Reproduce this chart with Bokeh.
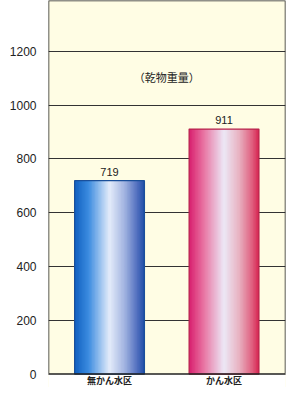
import numpy as np
from bokeh.plotting import figure
from bokeh.models import ColumnDataSource, FixedTicker, Range1d
from bokeh.core.properties import value
from bokeh.embed import file_html
from bokeh.resources import INLINE

categories = ["無かん水区", "かん水区"]
values = [719, 911]
y_ticks = [0, 200, 400, 600, 800, 1000, 1200]
note = "（乾物重量）"

# gradient stops (position, colour) for each bar - styling only
stops = [
    [(0.0, (16, 96, 192)), (0.2, (60, 140, 224)), (0.5, (228, 236, 250)),
     (0.72, (160, 178, 224)), (0.9, (80, 110, 190)), (1.0, (30, 78, 166))],
    [(0.0, (216, 32, 110)), (0.2, (232, 112, 160)), (0.5, (236, 232, 246)),
     (0.72, (232, 176, 192)), (0.9, (224, 96, 128)), (1.0, (214, 36, 80))],
]
edge_colors = ["#1a4f9a", "#b8204a"]

def grad(st, t):
    for (p0, c0), (p1, c1) in zip(st[:-1], st[1:]):
        if p0 <= t <= p1:
            f = (t - p0) / (p1 - p0)
            c = [int(round(a + (b - a) * f)) for a, b in zip(c0, c1)]
            return "#%02x%02x%02x" % tuple(c)
    return "#%02x%02x%02x" % st[-1][1]

x0r, x1r = -0.033, 2.037
y0r, y1r = -50, 1389
p = figure(width=289, height=387, output_backend="svg", toolbar_location=None,
           x_range=Range1d(x0r, x1r), y_range=Range1d(y0r, y1r),
           min_border_left=48, min_border_right=4, min_border_top=0, min_border_bottom=0)
p.background_fill_color = "#fffde4"
p.border_fill_color = "white"
p.outline_line_color = None

p.xgrid.grid_line_color = None
p.ygrid.grid_line_color = "#333333"
p.ygrid.grid_line_width = 1
p.yaxis.ticker = FixedTicker(ticks=y_ticks)
p.yaxis.axis_line_color = None
p.yaxis.major_tick_line_color = None
p.yaxis.minor_tick_line_color = None
p.yaxis.major_tick_out = 0
p.yaxis.minor_tick_out = 0
p.yaxis.major_label_standoff = 12
p.yaxis.major_label_text_font = "Liberation Sans"
p.yaxis.major_label_text_font_size = "12px"
p.yaxis.major_label_text_color = "#222222"
p.xaxis.visible = False

# white strip below the zero line (outside the chart box)
p.quad(left=[x0r], right=[x1r], bottom=[y0r], top=[0], fill_color="white", line_color=None)

centers = [i + 0.5 for i in range(len(categories))]

bar_w = 0.61
n = 48
for i, (c, v) in enumerate(zip(centers, values)):
    sw = bar_w / n
    xl = c - bar_w / 2
    lefts = [xl + sw * k for k in range(n)]
    rights = [min(xl + sw * (k + 1.6), c + bar_w / 2) for k in range(n)]
    cols = [grad(stops[i], (k + 0.5) / n) for k in range(n)]
    src = ColumnDataSource(dict(left=lefts, right=rights, top=[v] * n, color=cols))
    p.quad(left="left", right="right", top="top", bottom=0, source=src,
           fill_color="color", line_color=None)
    p.vbar(x=[c], top=[v], bottom=0, width=bar_w, fill_color=None,
           line_color=edge_colors[i], line_width=1.2)

# chart box
p.quad(left=[x0r], right=[x1r], bottom=[0], top=[y1r], fill_color=None,
       line_color="#222222", line_width=1.5)

# category labels under the box
p.text(x=centers, y=[-24] * len(centers), text=categories, text_align="center",
       text_baseline="middle", text_font=value("Noto Sans CJK JP"),
       text_font_style="bold", text_font_size="9px", text_color="#222222")

p.text(x=centers, y=[v + 18 for v in values], text=[str(v) for v in values],
       text_align="center", text_baseline="bottom", text_font=value("Liberation Sans"),
       text_font_size="11px", text_color="#222222")
p.text(x=[1.0], y=[1105], text=[note], text_align="center", text_baseline="middle",
       text_font=value("Noto Sans CJK JP"), text_font_size="11px", text_color="#222222")

open("out.html", "w").write(file_html(p, INLINE))
